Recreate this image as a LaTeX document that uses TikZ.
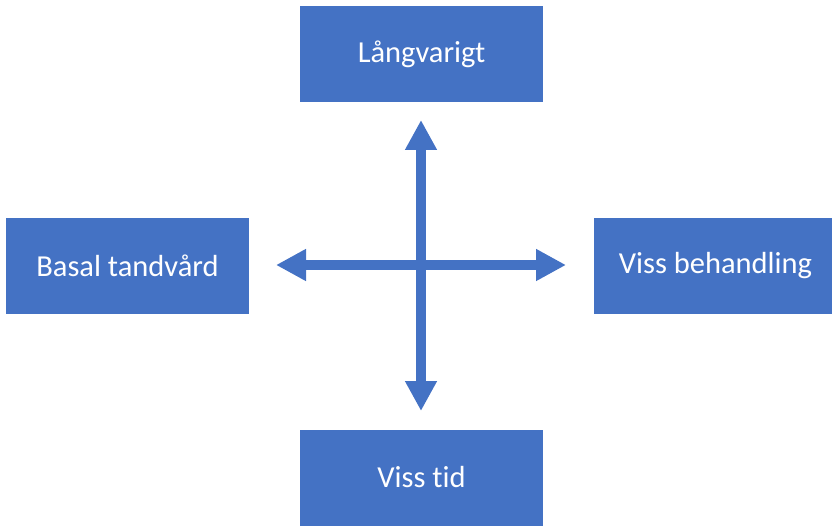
\documentclass[tikz,border=0pt]{standalone}
\usepackage{fontspec}
\setmainfont[Ligatures=NoCommon]{Carlito}
\usepackage{tikz}
\usetikzlibrary{arrows.meta}
\definecolor{boxblue}{HTML}{4472C4}
\tikzset{every node/.append style={font=\fontsize{30.5}{36}\selectfont}}
\tikzset{
  dimbox/.style={fill=boxblue, text=white, minimum width=243pt, minimum height=96pt, inner sep=0pt},
  dimarrow/.style={draw=boxblue, line width=10pt, {Triangle[length=30pt,width=30pt]}-{Triangle[length=30pt,width=30pt]}}
}

\begin{document}
\begin{tikzpicture}[x=1pt, y=1pt]
    \useasboundingbox (0,0) rectangle (832,525);
    \node[dimbox] (lang) at (421.5,471) {Långvarigt};
    \node[dimbox] (basal) at (127.5,259) {Basal tandvård};
    \node[dimbox] (behandling) at (715.5,259) {Viss behandling};
    \node[dimbox] (tid) at (421.5,47.5) {Viss tid};
    % axes between the four boxes
    \coordinate (top) at (421,405);
    \coordinate (bottom) at (421,114);
    \coordinate (left) at (276,260);
    \coordinate (right) at (566,260);
    \draw[dimarrow] (bottom) -- (top);
    \draw[dimarrow] (left) -- (right);
\end{tikzpicture}
\end{document}
